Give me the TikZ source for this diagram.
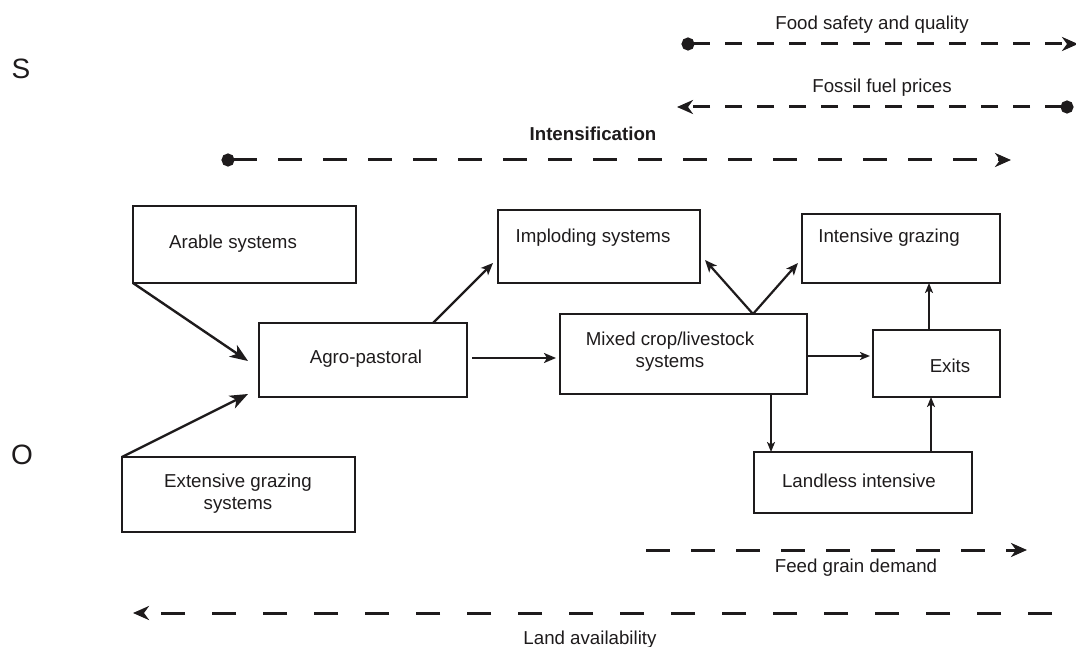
\documentclass[tikz,border=0pt]{standalone}
\usepackage{fontspec}
\setmainfont{Liberation Sans}
\usetikzlibrary{arrows.meta}
\definecolor{ink}{RGB}{30,27,28}
\begin{document}
\begin{tikzpicture}[x=1pt,y=-1pt,
  box/.style={draw=ink, line width=2.8pt, inner sep=0pt, outer sep=0pt},
  lbl/.style={text=ink, font=\fontsize{18.7}{22}\selectfont, inner sep=0pt, anchor=base},
  biglbl/.style={text=ink, font=\fontsize{28}{32}\selectfont, inner sep=0pt},
  arr/.style={draw=ink, line width=2.2pt, -{Stealth[length=12pt,width=10pt,inset=3pt]}},
  bigarr/.style={draw=ink, line width=2.4pt, -{Stealth[length=18pt,width=14pt,inset=5pt]}},
  smallarr/.style={draw=ink, line width=2.2pt, -{Stealth[length=10pt,width=8pt,inset=2.5pt]}},
  trend/.style={draw=ink, line width=3pt, dash pattern=on 24pt off 21pt},
  trendshort/.style={draw=ink, line width=3pt, dash pattern=on 17pt off 15pt},
  tip/.style={-{Stealth[length=16pt,width=14pt,inset=5pt]}},
  dottip/.style={{Circle[length=13pt]}-{Stealth[length=16pt,width=14pt,inset=5pt]}}
]
\useasboundingbox (0,0) rectangle (1076,647);

% side letters
\node[biglbl] (S) at (21,69) {S};
\node[biglbl] (O) at (22,455) {O};

% boxes
\node[box, minimum width=223pt, minimum height=77pt] (arable) at (244.5,244.5) {};
\node[box, minimum width=208pt, minimum height=74pt] (agro) at (363,360) {};
\node[box, minimum width=233pt, minimum height=75pt] (ext) at (238.5,494.5) {};
\node[box, minimum width=202pt, minimum height=73pt] (impl) at (599,246.5) {};
\node[box, minimum width=198pt, minimum height=69pt] (intg) at (901,248.5) {};
\node[box, minimum width=247pt, minimum height=80pt] (mixed) at (683.5,354) {};
\node[box, minimum width=127pt, minimum height=67pt] (exits) at (936.5,363.5) {};
\node[box, minimum width=218pt, minimum height=61pt] (landless) at (863,482.5) {};

% box texts
\node[lbl] (arableT) at (233,248) {Arable systems};
\node[lbl] (agroT) at (366,363) {Agro-pastoral};
\node[lbl] (extT1) at (238,487) {Extensive grazing};
\node[lbl] (extT2) at (238,509) {systems};
\node[lbl] (implT) at (593,243) {Imploding systems};
\node[lbl] (intgT) at (889,243) {Intensive grazing};
\node[lbl] (mixedT1) at (670,345) {Mixed crop/livestock};
\node[lbl] (mixedT2) at (670,367) {systems};
\node[lbl] (exitsT) at (950,372) {Exits};
\node[lbl] (landlessT) at (859,487) {Landless intensive};

% connectors between boxes
\draw[bigarr] (arable.south west) -- ([xshift=-11pt,yshift=-1pt]agro.west);
\draw[bigarr] (ext.north west) -- ([xshift=-11pt,yshift=3pt]agro.south west);
\draw[arr] ([xshift=70pt]agro.north) -- ([xshift=-5pt,yshift=20pt]impl.south west);
\draw[arr] ([xshift=5pt,yshift=2pt]agro.east) -- ([xshift=-4pt,yshift=2pt]agro.east -| mixed.west);
\coordinate (split) at ([xshift=69.5pt]mixed.north);
\draw[arr] (split) -- ([xshift=5pt,yshift=23pt]impl.south east);
\draw[arr] (split) -- ([xshift=-4pt,yshift=20pt]intg.south west);
\draw[smallarr] ([yshift=-2pt]mixed.east) -- ([xshift=-3pt,yshift=-2pt]mixed.east -| exits.west);
\draw[smallarr] ([xshift=87.5pt]mixed.south) -- ([xshift=87.5pt]mixed.south |- landless.north);
\draw[smallarr] ([xshift=68pt]landless.north) -- ([xshift=68pt]landless.north |- exits.south);
\draw[smallarr] ([xshift=-7.5pt]exits.north) -- ([xshift=-7.5pt]exits.north |- intg.south);

% trend arrows
\coordinate (foodA) at (681.5,44);
\coordinate (foodB) at (1078,44);
\draw[trendshort, dottip] (foodA) -- (foodB);
\node[lbl] (foodT) at (872,30) {Food safety and quality};

\coordinate (fossA) at (1073.5,107);
\coordinate (fossB) at (677,107);
\draw[trendshort, dottip] (fossA) -- (fossB);
\node[lbl] (fossT) at (882,93) {Fossil fuel prices};

\coordinate (intA) at (221.5,160);
\coordinate (intB) at (1011,160);
\draw[trend, dottip] (intA) -- (intB);
\node[lbl, font=\bfseries\fontsize{18.7}{22}\selectfont] (intT) at (593,141) {Intensification};

\coordinate (feedA) at (646,550);
\coordinate (feedB) at (1027,550);
\draw[trend, tip] (feedA) -- (feedB);
\node[lbl] (feedT) at (856,572) {Feed grain demand};

\coordinate (landA) at (1052,613);
\coordinate (landB) at (133,613);
\draw[trend, dash pattern=on 24pt off 27pt, tip] (landA) -- (landB);
\node[lbl] (landT) at (590,644) {Land availability};
\end{tikzpicture}
\end{document}
